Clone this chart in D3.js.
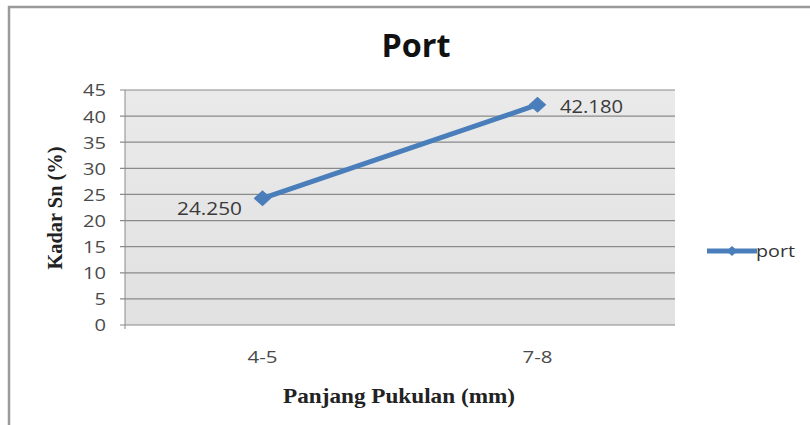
<!DOCTYPE html>
<html><head><meta charset="utf-8">
<script src="https://cdn.jsdelivr.net/npm/d3@7"></script>
<style>body{margin:0;background:#fff}svg{display:block}</style>
</head><body>
<script>
const categories = ["4-5", "7-8"];
const values = [24.25, 42.18];
const labels = ["24.250", "42.180"];
const yTicks = [0, 5, 10, 15, 20, 25, 30, 35, 40, 45];
const seriesName = "port";

const W = 810, H = 425;
const svg = d3.select("body").append("svg").attr("width", W).attr("height", H);
const defs = svg.append("defs");
const grad = defs.append("linearGradient").attr("id","bg").attr("x1","0").attr("y1","0").attr("x2","0").attr("y2","1");
grad.append("stop").attr("offset","0").attr("stop-color","#eaeaea");
grad.append("stop").attr("offset","1").attr("stop-color","#e1e1e1");

// outer frame
svg.append("rect").attr("x", 9).attr("y", 7).attr("width", W).attr("height", H)
  .attr("fill", "none").attr("stroke", "#9a9a9a").attr("stroke-width", 2.5);

const m = {l: 125, r: 675, t: 90, b: 325};
const x = d3.scaleBand().domain(categories).range([m.l, m.r]);
const y = d3.scaleLinear().domain([0, 45]).range([m.b, m.t]);
const sans = "'Open Sans', sans-serif";
const serif = "'Liberation Serif', serif";

svg.append("rect").attr("x", m.l).attr("y", m.t).attr("width", m.r - m.l).attr("height", m.b - m.t)
  .attr("fill", "url(#bg)");

// gridlines
svg.append("g").selectAll("line").data(yTicks).join("line")
  .attr("x1", m.l - 5).attr("x2", m.r).attr("y1", d => y(d)).attr("y2", d => y(d))
  .attr("stroke", "#8a8a8a").attr("stroke-width", 1.2);
svg.append("line").attr("x1", m.l).attr("x2", m.l).attr("y1", m.t).attr("y2", m.b + 4)
  .attr("stroke", "#8a8a8a");

// y axis labels
const yAxis = d3.axisLeft(y).tickValues(yTicks).tickSize(0).tickPadding(0);
const gy = svg.append("g").attr("transform", `translate(${m.l - 19},0)`).call(yAxis);
gy.select(".domain").remove();
gy.selectAll("text").attr("font-family", sans).attr("font-size", 16.5).attr("fill", "#4a4a4a")
  .attr("dy", "0.36em")
  .attr("textLength", d => String(d).length * 11.5).attr("lengthAdjust", "spacingAndGlyphs");

// x axis labels
const xAxis = d3.axisBottom(x).tickSize(0).tickPadding(0);
const gx = svg.append("g").attr("transform", `translate(0,${m.b + 38})`).call(xAxis);
gx.select(".domain").remove();
gx.selectAll("text").attr("font-family", sans).attr("font-size", 16).attr("fill", "#4a4a4a")
  .attr("dy", 0).attr("textLength", 30).attr("lengthAdjust", "spacingAndGlyphs");

// title
svg.append("text").attr("x", 416).attr("y", 57).attr("text-anchor", "middle")
  .attr("font-family", sans).attr("font-weight", "bold").attr("font-size", 32)
  .attr("textLength", 69).attr("lengthAdjust", "spacingAndGlyphs")
  .attr("fill", "#111").text("Port");

// axis titles
svg.append("text").attr("transform", `translate(62,${208}) rotate(-90)`)
  .attr("text-anchor", "middle").attr("font-family", serif).attr("font-weight", "bold")
  .attr("font-size", 21).attr("fill", "#222")
  .attr("textLength", 123).attr("lengthAdjust", "spacingAndGlyphs").text("Kadar Sn (%)");
svg.append("text").attr("x", 399).attr("y", 403).attr("text-anchor", "middle")
  .attr("font-family", serif).attr("font-weight", "bold")
  .attr("font-size", 21).attr("fill", "#222")
  .attr("textLength", 232).attr("lengthAdjust", "spacingAndGlyphs").text("Panjang Pukulan (mm)");

// line
const color = "#4a7ebb";
const pts = categories.map((c, i) => [x(c) + x.bandwidth() / 2, y(values[i])]);
svg.append("path").attr("d", d3.line()(pts)).attr("fill", "none").attr("stroke", color)
  .attr("stroke-width", 5).attr("stroke-linecap", "round");
const diamondPath = s => `M0,${-s}L${s * 1.1},0L0,${s}L${-s * 1.1},0Z`;
svg.append("g").selectAll("path").data(pts).join("path")
  .attr("transform", d => `translate(${d[0]},${d[1]})`).attr("d", diamondPath(8)).attr("fill", color);

// data labels
svg.append("text").attr("x", 242).attr("y", pts[0][1] + 17).attr("text-anchor", "end")
  .attr("font-family", sans).attr("font-size", 17.5).attr("fill", "#3a3a3a")
  .attr("textLength", 65).attr("lengthAdjust", "spacingAndGlyphs").text(labels[0]);
svg.append("text").attr("x", 560).attr("y", pts[1][1] + 8).attr("text-anchor", "start")
  .attr("font-family", sans).attr("font-size", 17.5).attr("fill", "#3a3a3a")
  .attr("textLength", 63).attr("lengthAdjust", "spacingAndGlyphs").text(labels[1]);

// legend
const ly = 251;
svg.append("line").attr("x1", 707).attr("x2", 757).attr("y1", ly).attr("y2", ly)
  .attr("stroke", color).attr("stroke-width", 5);
svg.append("path").attr("transform", `translate(732,${ly})`).attr("d", diamondPath(5)).attr("fill", color);
svg.append("text").attr("x", 756).attr("y", ly + 6).attr("font-family", sans)
  .attr("font-size", 17).attr("fill", "#333")
  .attr("textLength", 39).attr("lengthAdjust", "spacingAndGlyphs").text(seriesName);
</script>
</body></html>
